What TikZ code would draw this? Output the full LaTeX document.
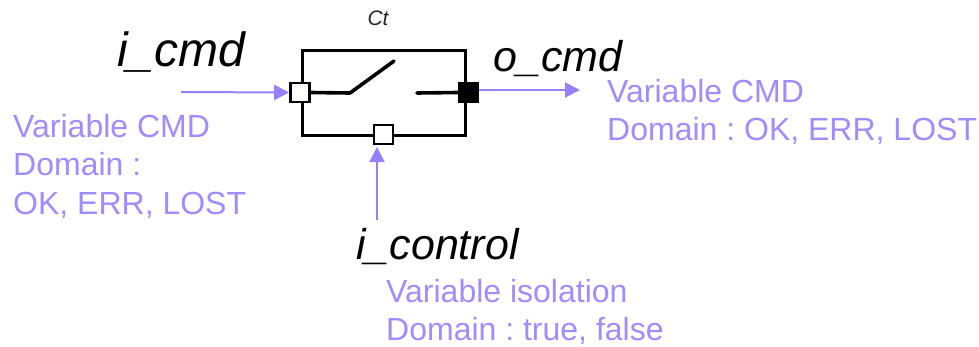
\documentclass[tikz,border=0pt]{standalone}
\usepackage{fontspec}
\setmainfont{Liberation Sans}
\usetikzlibrary{arrows.meta}
\definecolor{viol}{HTML}{9F8CFF}
\definecolor{flowc}{HTML}{9580FF}
\tikzset{
 big/.style={font=\fontsize{48}{50}\selectfont\itshape,inner sep=0pt,anchor=base west,text=black},
 mid/.style={font=\fontsize{43}{50}\selectfont\itshape,inner sep=0pt,anchor=base west,text=black},
 info/.style={font=\fontsize{32}{38.5}\selectfont\frenchspacing,inner sep=0pt,anchor=north west,text=viol,align=left},
 wire/.style={draw=black,line width=3.6pt,line cap=round,line join=round},
 thin wire/.style={draw=black,line width=3pt},
 portw/.style={draw=black,fill=white,line width=2.6pt,minimum size=19pt,inner sep=0pt},
 portb/.style={draw=black,fill=black,line width=2.6pt,minimum size=19pt,inner sep=0pt},
 flow/.style={draw=flowc,line width=2pt,-{Triangle[length=15pt,width=15pt]}}
}
\begin{document}
\begin{tikzpicture}[x=1pt,y=-1pt]
\useasboundingbox (0,0) rectangle (979,346);
\coordinate (tl) at (302,50); \coordinate (tr) at (465,50);
\coordinate (bl) at (302,135); \coordinate (br) at (465,135);
\draw[thin wire,line join=miter] (tl) -- (tr) -- (br) -- (bl) -- cycle;
\node[portw] (pin) at (300,92.5) {};
\node[portb] (pout) at (468.5,92.5) {};
\node[portw] (pctl) at (383.5,134.5) {};
\coordinate (sw1) at (350,93); \coordinate (sw2) at (394,61); \coordinate (sw3) at (417,93);
\draw[wire] (pin.east) -- (sw1) -- (sw2);
\draw[wire] (sw3) -- (pout.west);
\node[inner sep=0pt,font=\fontsize{21}{24}\selectfont\itshape,text=black!85] (ct) at (378,18) {Ct};
\coordinate (a1) at (181,92); \coordinate (a3) at (377,220);
\draw[flow] (a1) -- (pin.west);
\coordinate (a2) at (580,90);
\draw[flow] (pout.east |- a2) -- (a2);
\draw[flow] (a3) -- (377,147);
\node[big] (icmd) at (117,66) {i\_cmd};
\node[mid] (ocmd) at (493,71) {o\_cmd};
\node[mid] (ictl) at (356,259) {i\_control};
\node[info] (t1) at (13,114) {Variable CMD\\Domain :\\OK, ERR, LOST};
\node[info] (t2) at (607,79) {Variable CMD\\Domain : OK, ERR, LOST};
\node[info] (t3) at (386,279) {Variable isolation\\Domain : true, false};
\end{tikzpicture}
\end{document}
